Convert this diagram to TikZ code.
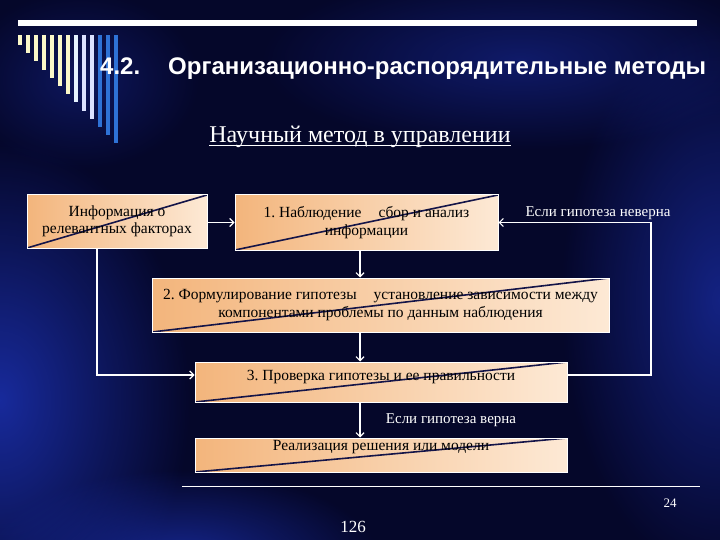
\documentclass[tikz,border=0pt]{standalone}
\usepackage{fontspec}
\setmainfont{Liberation Serif}
\newfontfamily\headfont{Liberation Sans}
\usetikzlibrary{arrows.meta,positioning,fadings}
\frenchspacing

\definecolor{bgnavy}{HTML}{05072A}
\definecolor{glowblue}{HTML}{1A2EA8}
\definecolor{peachdeep}{HTML}{F3B57C}
\definecolor{peachlite}{HTML}{FDE9D5}
\definecolor{diagnavy}{HTML}{141448}
\definecolor{barcream}{HTML}{FBF8C8}
\definecolor{barpale}{HTML}{E6F4FF}
\definecolor{barwhite}{HTML}{DCE2FF}
\definecolor{barblue}{HTML}{2E72D6}

\tikzfading[name=softglow, inner color=transparent!0, outer color=transparent!100]

\tikzset{
  stepbox/.style={draw=white, line width=1pt, left color=peachdeep, right color=peachlite,
    text=black, align=center, inner sep=0pt, font=\fontsize{15.5}{17.5}\selectfont,
    path picture={\draw[draw=diagnavy, line width=1.6pt]
      (path picture bounding box.south west) -- (path picture bounding box.north east);}},
  note/.style={text=white, inner sep=0pt, font=\fontsize{15}{17}\selectfont},
  glow/.style={glowblue, path fading=softglow},
  arr/.style={draw=white, line width=1.2pt, -{Straight Barb[length=4pt,width=8pt]}},
}

\begin{document}
\begin{tikzpicture}[x=1pt,y=-1pt]
\useasboundingbox (0,0) rectangle (720,540);
% background
\fill[bgnavy] (0,0) rectangle (720,540);
\fill[glow, opacity=.9] (0,400) ellipse (190 and 260);
\fill[glow, opacity=.8] (180,560) ellipse (200 and 90);
\fill[glow, opacity=.7] (720,300) ellipse (160 and 280);
\fill[glow, opacity=.5] (520,60) ellipse (260 and 90);
\fill[glow, opacity=.4] (80,80) ellipse (120 and 90);
% header
\fill[white] (18,20) rectangle (697,26);
\foreach \c [count=\i from 0] in {barcream,barcream,barcream,barcream,barcream,barcream,barcream,
    barpale,barwhite,barwhite,barblue,barblue,barblue}
  \fill[\c] ({17.5+8*\i},35) rectangle ({21.5+8*\i},{45+8.2*\i});
\node[anchor=base west, inner sep=0pt, text=white, font=\headfont\bfseries\fontsize{24}{28}\selectfont]
  (num) at (100,75) {4.2.};
\node[anchor=base west, inner sep=0pt, text=white, font=\headfont\bfseries\fontsize{24}{28}\selectfont]
  (title) at (168,75) {Организационно-распорядительные методы};
\node[anchor=base, inner sep=0pt, text=white, font=\fontsize{24}{28}\selectfont]
  (sub) at (360,143) {Научный метод в управлении};
\draw[white, line width=1pt] ([yshift=-3pt]sub.base west) -- ([yshift=-3pt]sub.base east);

% boxes
\node[stepbox, minimum width=180pt, minimum height=53pt] (info) at (117,221.5)
  {Информация о\\релевантных факторах};
\node[stepbox, minimum width=263pt, minimum height=55pt] (obs) at (366.5,222.5)
  {1. Наблюдение\hspace{1.1em}сбор и анализ\\информации};
\node[stepbox, minimum width=457pt, minimum height=54pt] (hyp) at (380.5,305)
  {2. Формулирование гипотезы\hspace{1.1em}установление зависимости между\\компонентами проблемы по данным наблюдения};
\node[stepbox, minimum width=372pt, minimum height=40pt, text height=10pt, text depth=12.6pt]
  (chk) at (381,382) {3. Проверка гипотезы и ее правильности};
\node[stepbox, minimum width=372pt, minimum height=34pt, text height=10pt, text depth=19pt]
  (impl) at (381,455) {Реализация решения или модели};

% connectors
\coordinate (vx) at (360,0);
\coordinate (lx) at (97,0);
\coordinate (rx) at (651,0);
\coordinate (ly) at (0,375);
\draw[arr] (info.east |- obs.east) -- (obs.west);
\draw[arr] (vx |- obs.south) -- (vx |- hyp.north);
\draw[arr] (vx |- hyp.south) -- (vx |- chk.north);
\draw[arr] (vx |- chk.south) -- (vx |- impl.north);
\draw[arr] (lx |- info.south) -- (lx |- ly) -- (chk.west |- ly);
\draw[arr] (chk.east |- ly) -- (rx |- ly) -- (rx |- obs.east) -- (obs.east);

\node[note, anchor=base] (wrong) at (598,216) {Если гипотеза неверна};
\node[note, anchor=base] (true) at (451,423) {Если гипотеза верна};

% footer
\coordinate (fl) at (182,486);
\coordinate (fr) at (700,486);
\draw[white, line width=.8pt] (fl) -- (fr);
\node[anchor=base, inner sep=0pt, text=white, font=\fontsize{13}{15}\selectfont] (page) at (670,507) {24};
\node[anchor=base, inner sep=0pt, text=white, font=\fontsize{17}{19}\selectfont] (folio) at (353,532) {126};
\end{tikzpicture}
\end{document}
